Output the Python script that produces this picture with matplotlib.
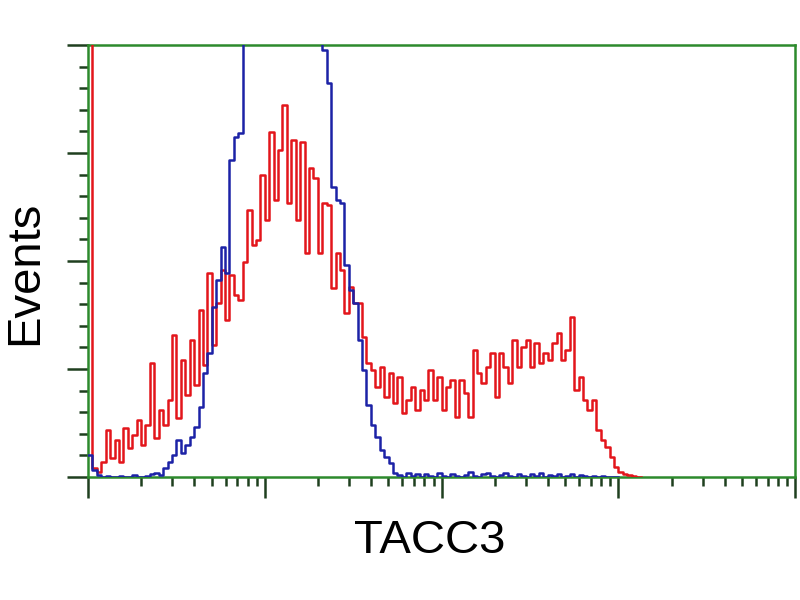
import numpy as np
import matplotlib
matplotlib.use('Agg')
import matplotlib.pyplot as plt

matplotlib.rcParams['font.family'] = ['Liberation Sans', 'DejaVu Sans']

# histogram channels: 40 bins per decade over 4 decades (log axis)
bins_per_decade = 40

# red histogram (stained sample), counts per channel starting at channel 0
red_counts = [
    130, 2.1, 1.2, 3.5, 10.9, 4.4, 8.6, 3.5, 11.3, 6.7,
    9.7, 13.2, 7.4, 12.0, 26.4, 9.0, 15.5, 12.0, 17.8, 32.9,
    13.7, 27.1, 19.0, 31.7, 21.3, 38.7, 25.9, 47.2, 30.6, 40.3,
    47.9, 36.3, 46.8, 42.1, 41.0, 49.8, 61.8, 53.7, 54.9, 69.9,
    59.5, 79.9, 64.1, 75.7, 86.1, 63.4, 78.0, 59.5, 77.5, 51.9,
    71.5, 69.2, 51.9, 63.4, 63.0, 43.8, 51.9, 47.9, 38.0, 44.0,
    40.3, 40.3, 32.4, 26.4, 24.8, 20.8, 25.5, 18.5, 24.1, 17.1,
    23.1, 14.8, 17.8, 20.8, 15.5, 20.1, 17.8, 24.8, 17.8, 23.1,
    15.5, 20.8, 22.5, 13.9, 22.5, 19.4, 13.9, 29.4, 24.1, 21.8,
    25.5, 28.7, 18.5, 28.7, 25.5, 21.8, 31.7, 25.5, 30.1, 31.7,
    25.5, 31.0, 26.4, 28.7, 27.1, 31.0, 33.3, 27.1, 29.4, 37.0,
    20.1, 23.1, 17.8, 15.5, 17.8, 10.9, 8.6, 6.9, 4.6, 2.3,
    1.2, 0.7, 0.5, 0.2, 0.0,
]

# blue histogram (isotype control)
blue_counts = [
    5.1, 1.6, 0.5, 0.0, 0.3, 0.0, 0.0, 0.3, 0.0, 0.0,
    0.5, 0.0, 0.0, 0.2, 0.6, 0.9, 0.4, 2.1, 3.5, 5.1,
    8.6, 5.6, 7.4, 9.3, 11.6, 16.2, 24.1, 28.7, 39.4, 45.6,
    53.2, 47.2, 73.4, 78.7, 79.6, 120, 140, 160, 180, 195,
    205, 210, 215, 212, 205, 195, 180, 165, 150, 135,
    120, 110, 104, 98.8, 91.2, 67.1, 64.1, 63.4, 49.1, 43.3,
    40.3, 31.7, 24.8, 16.7, 12.0, 9.3, 6.3, 4.6, 3.2, 0.9,
    0.5, 0.0, 1.0, 0.3, 0.8, 0.0, 0.6, 0.2, 0.0, 0.9,
    0.3, 0.0, 0.7, 0.2, 0.0, 0.5, 1.1, 0.3, 0.0, 0.6,
    0.9, 0.2, 0.0, 0.4, 1.0, 0.3, 0.0, 0.7, 0.2, 0.0,
    0.6, 0.3, 0.9, 0.0, 0.5, 0.2, 0.8, 0.0, 0.3, 0.6,
    0.0, 0.4, 0.2, 0.0, 0.3, 0.0, 0.2, 0.0, 0.0, 0.0,
]

x_label = 'TACC3'
y_label = 'Events'

n_bins = 4 * bins_per_decade
edges = 10 ** (np.arange(n_bins + 1) / bins_per_decade)


def step_xy(counts):
    c = np.asarray(counts, dtype=float)
    e = edges[:len(c) + 1]
    return e, np.append(c, c[-1])


fig = plt.figure(figsize=(8, 6), dpi=100)
ax = fig.add_axes([0.11, 0.205, 0.884, 0.72])

ex, ey = step_xy(red_counts)
ax.step(ex, ey, where='post', color='#e3151b', lw=1.8, zorder=3)
ex, ey = step_xy(blue_counts)
ax.step(ex, ey, where='post', color='#1c22a6', lw=1.8, zorder=4)

ax.set_xscale('log')
ax.set_xlim(1, 10 ** 4)
ax.set_ylim(0, 100)

ax.set_yticks(np.arange(0, 101, 25))
ax.set_yticks(np.arange(0, 101, 5), minor=True)
ax.set_xticks([1, 10, 100, 1000, 10000])
ax.xaxis.set_minor_locator(matplotlib.ticker.LogLocator(base=10, subs=np.arange(2, 10)))
ax.xaxis.set_minor_formatter(matplotlib.ticker.NullFormatter())
ax.set_xticklabels([])
ax.set_yticklabels([])

ax.tick_params(which='major', direction='out', length=15, width=1.8, color='#1f3f1f')
ax.tick_params(which='minor', direction='out', length=6.5, width=1.8, color='#1f3f1f')

for s in ax.spines.values():
    s.set_color('#2d8a2d')
    s.set_linewidth(1.8)

fig.text(0.537, 0.098, x_label, ha='center', va='center', fontsize=34)
fig.text(0.031, 0.545, y_label, ha='center', va='center', fontsize=34, rotation=90)

fig.savefig('out.png', dpi=100)
